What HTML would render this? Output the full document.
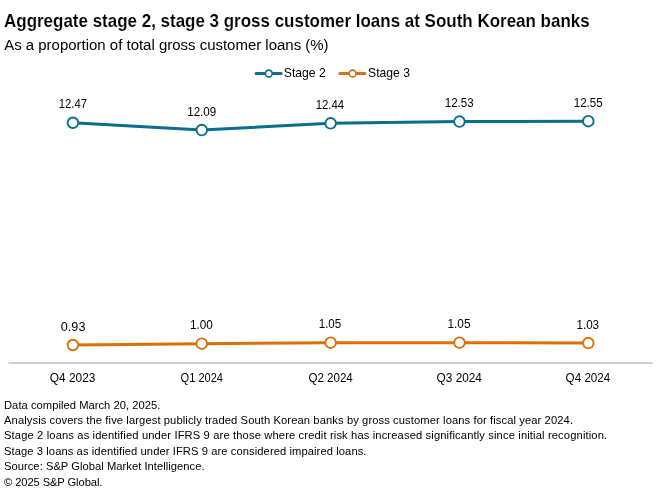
<!DOCTYPE html>
<html><head><meta charset="utf-8"><style>
html,body{margin:0;padding:0;background:#fff;width:660px;height:499px;overflow:hidden;}
svg{display:block;will-change:transform;font-family:"Liberation Sans", sans-serif;}
</style></head><body>
<svg width="660" height="499" viewBox="0 0 660 499">
<rect width="660" height="499" fill="#fff"/>
<text x="4.03" y="26.60" font-family="Liberation Sans, sans-serif" font-size="18" font-weight="bold" fill="#000" stroke="#fff" stroke-width="0.12" textLength="585.62" lengthAdjust="spacingAndGlyphs">Aggregate stage 2, stage 3 gross customer loans at South Korean banks</text>
<text x="4.20" y="49.70" font-family="Liberation Sans, sans-serif" font-size="15.2" font-weight="normal" fill="#000" textLength="324.40" lengthAdjust="spacingAndGlyphs">As a proportion of total gross customer loans (%)</text>
<text x="283.82" y="76.50" font-family="Liberation Sans, sans-serif" font-size="12.4" font-weight="normal" fill="#000" textLength="41.89" lengthAdjust="spacingAndGlyphs">Stage 2</text>
<text x="368.01" y="76.50" font-family="Liberation Sans, sans-serif" font-size="12.4" font-weight="normal" fill="#000" textLength="42.01" lengthAdjust="spacingAndGlyphs">Stage 3</text>
<text x="58.77" y="108.33" font-family="Liberation Sans, sans-serif" font-size="12.6" font-weight="normal" fill="#000" textLength="28.15" lengthAdjust="spacingAndGlyphs">12.47</text>
<text x="60.80" y="330.59" font-family="Liberation Sans, sans-serif" font-size="12.6" font-weight="normal" fill="#000" textLength="24.62" lengthAdjust="spacingAndGlyphs">0.93</text>
<text x="187.23" y="115.65" font-family="Liberation Sans, sans-serif" font-size="12.6" font-weight="normal" fill="#000" textLength="28.99" lengthAdjust="spacingAndGlyphs">12.09</text>
<text x="190.07" y="329.24" font-family="Liberation Sans, sans-serif" font-size="12.6" font-weight="normal" fill="#000" textLength="22.81" lengthAdjust="spacingAndGlyphs">1.00</text>
<text x="315.72" y="108.91" font-family="Liberation Sans, sans-serif" font-size="12.6" font-weight="normal" fill="#000" textLength="28.47" lengthAdjust="spacingAndGlyphs">12.44</text>
<text x="318.69" y="328.28" font-family="Liberation Sans, sans-serif" font-size="12.6" font-weight="normal" fill="#000" textLength="22.60" lengthAdjust="spacingAndGlyphs">1.05</text>
<text x="444.75" y="107.17" font-family="Liberation Sans, sans-serif" font-size="12.6" font-weight="normal" fill="#000" textLength="28.94" lengthAdjust="spacingAndGlyphs">12.53</text>
<text x="447.45" y="328.28" font-family="Liberation Sans, sans-serif" font-size="12.6" font-weight="normal" fill="#000" textLength="23.02" lengthAdjust="spacingAndGlyphs">1.05</text>
<text x="573.75" y="106.79" font-family="Liberation Sans, sans-serif" font-size="12.6" font-weight="normal" fill="#000" textLength="28.94" lengthAdjust="spacingAndGlyphs">12.55</text>
<text x="576.46" y="328.66" font-family="Liberation Sans, sans-serif" font-size="12.6" font-weight="normal" fill="#000" textLength="22.60" lengthAdjust="spacingAndGlyphs">1.03</text>
<text x="49.86" y="381.80" font-family="Liberation Sans, sans-serif" font-size="12.6" font-weight="normal" fill="#000" textLength="45.55" lengthAdjust="spacingAndGlyphs">Q4 2023</text>
<text x="180.62" y="381.80" font-family="Liberation Sans, sans-serif" font-size="12.6" font-weight="normal" fill="#000" textLength="42.39" lengthAdjust="spacingAndGlyphs">Q1 2024</text>
<text x="308.42" y="381.80" font-family="Liberation Sans, sans-serif" font-size="12.6" font-weight="normal" fill="#000" textLength="44.40" lengthAdjust="spacingAndGlyphs">Q2 2024</text>
<text x="436.61" y="381.80" font-family="Liberation Sans, sans-serif" font-size="12.6" font-weight="normal" fill="#000" textLength="45.31" lengthAdjust="spacingAndGlyphs">Q3 2024</text>
<text x="565.61" y="381.80" font-family="Liberation Sans, sans-serif" font-size="12.6" font-weight="normal" fill="#000" textLength="44.70" lengthAdjust="spacingAndGlyphs">Q4 2024</text>
<text x="4.00" y="408.50" font-family="Liberation Sans, sans-serif" font-size="11.2" font-weight="normal" fill="#000" textLength="156.47" lengthAdjust="spacing">Data compiled March 20, 2025.</text>
<text x="4.00" y="423.95" font-family="Liberation Sans, sans-serif" font-size="11.2" font-weight="normal" fill="#000" textLength="569.02" lengthAdjust="spacing">Analysis covers the five largest publicly traded South Korean banks by gross customer loans for fiscal year 2024.</text>
<text x="4.00" y="439.40" font-family="Liberation Sans, sans-serif" font-size="11.2" font-weight="normal" fill="#000" textLength="603.16" lengthAdjust="spacing">Stage 2 loans as identified under IFRS 9 are those where credit risk has increased significantly since initial recognition.</text>
<text x="4.00" y="454.85" font-family="Liberation Sans, sans-serif" font-size="11.2" font-weight="normal" fill="#000" textLength="362.47" lengthAdjust="spacing">Stage 3 loans as identified under IFRS 9 are considered impaired loans.</text>
<text x="4.00" y="470.30" font-family="Liberation Sans, sans-serif" font-size="11.2" font-weight="normal" fill="#000" textLength="200.52" lengthAdjust="spacing">Source: S&amp;P Global Market Intelligence.</text>
<text x="4.00" y="485.75" font-family="Liberation Sans, sans-serif" font-size="11.2" font-weight="normal" fill="#000" textLength="98.39" lengthAdjust="spacing">&#169; 2025 S&amp;P Global.</text>
<line x1="256.1" y1="73.5" x2="281.1" y2="73.5" stroke="#0a6e8c" stroke-width="3" stroke-linecap="round"/>
<circle cx="268.8" cy="73.5" r="3.4" fill="#fff" stroke="#0a6e8c" stroke-width="1.6"/>
<line x1="339.9" y1="73.5" x2="364.9" y2="73.5" stroke="#db7008" stroke-width="3" stroke-linecap="round"/>
<circle cx="352.59999999999997" cy="73.5" r="3.4" fill="#fff" stroke="#db7008" stroke-width="1.6"/>
<rect x="8.5" y="362" width="644.25" height="2" fill="#d0d0d0"/>
<polyline points="72.90,122.73 201.75,130.05 330.60,123.31 459.45,121.57 588.30,121.19" fill="none" stroke="#0a6e8c" stroke-width="3" stroke-linejoin="round"/>
<circle cx="72.90" cy="122.73" r="5.3" fill="#fff" stroke="#0a6e8c" stroke-width="1.9"/>
<circle cx="201.75" cy="130.05" r="5.3" fill="#fff" stroke="#0a6e8c" stroke-width="1.9"/>
<circle cx="330.60" cy="123.31" r="5.3" fill="#fff" stroke="#0a6e8c" stroke-width="1.9"/>
<circle cx="459.45" cy="121.57" r="5.3" fill="#fff" stroke="#0a6e8c" stroke-width="1.9"/>
<circle cx="588.30" cy="121.19" r="5.3" fill="#fff" stroke="#0a6e8c" stroke-width="1.9"/>
<polyline points="72.90,344.99 201.75,343.64 330.60,342.68 459.45,342.68 588.30,343.06" fill="none" stroke="#db7008" stroke-width="3" stroke-linejoin="round"/>
<circle cx="72.90" cy="344.99" r="5.3" fill="#fff" stroke="#db7008" stroke-width="1.9"/>
<circle cx="201.75" cy="343.64" r="5.3" fill="#fff" stroke="#db7008" stroke-width="1.9"/>
<circle cx="330.60" cy="342.68" r="5.3" fill="#fff" stroke="#db7008" stroke-width="1.9"/>
<circle cx="459.45" cy="342.68" r="5.3" fill="#fff" stroke="#db7008" stroke-width="1.9"/>
<circle cx="588.30" cy="343.06" r="5.3" fill="#fff" stroke="#db7008" stroke-width="1.9"/>
</svg>
</body></html>
